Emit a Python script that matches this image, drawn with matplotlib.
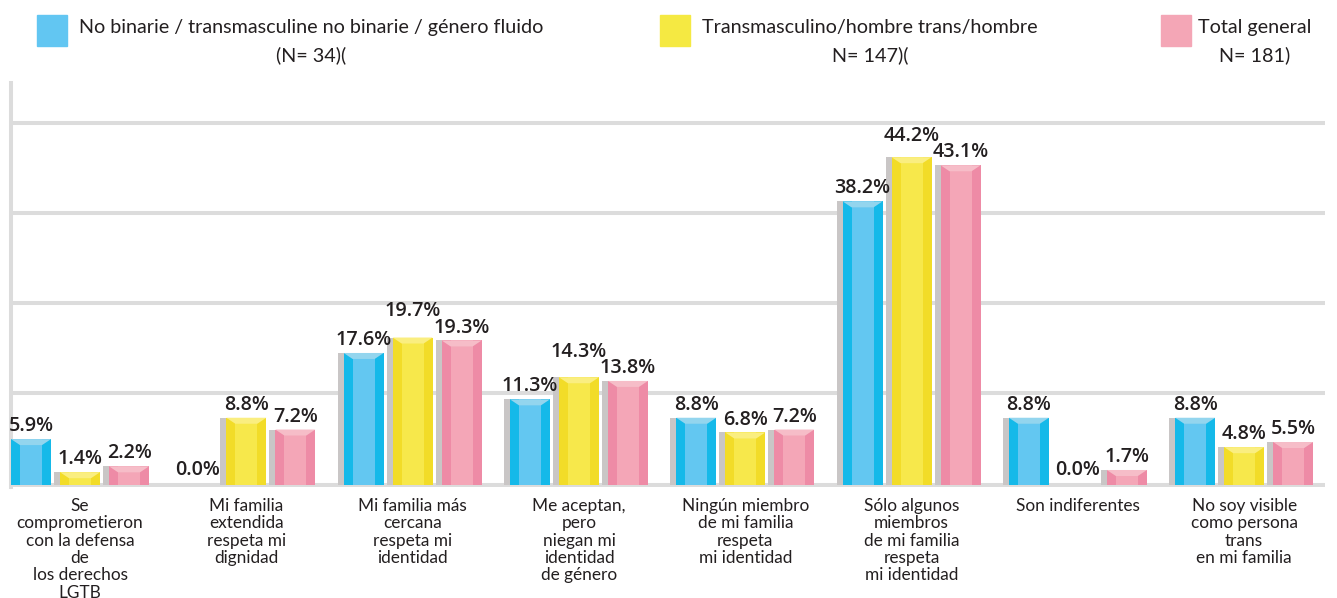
import numpy as np
import matplotlib.pyplot as plt
from matplotlib.patches import Polygon

categories = [
    "Se\ncomprometieron\ncon la defensa\nde\nlos derechos\nLGTB",
    "Mi familia\nextendida\nrespeta mi\ndignidad",
    "Mi familia más\ncercana\nrespeta mi\nidentidad",
    "Me aceptan,\npero\nniegan mi\nidentidad\nde género",
    "Ningún miembro\nde mi familia\nrespeta\nmi identidad",
    "Sólo algunos\nmiembros\nde mi familia\nrespeta\nmi identidad",
    "Son indiferentes",
    "No soy visible\ncomo persona\ntrans\nen mi familia",
]
series_names = ["No binarie / transmasculine no binarie / género fluido",
                "Transmasculino/hombre trans/hombre",
                "Total general"]
series_n = ["(N= 34)(", "N= 147)(", "N= 181)"]

no_binarie = [5.9, 0.0, 17.6, 11.3, 8.8, 38.2, 8.8, 8.8]
transmasculino = [1.4, 8.8, 19.7, 14.3, 6.8, 44.2, 0.0, 4.8]
total_general = [2.2, 7.2, 19.3, 13.8, 7.2, 43.1, 1.7, 5.5]

# side, centre, top bevel, legend colour
palette = [
    ("#15b9e9", "#63c7f1", "#93d5ee", "#62c6f2"),
    ("#f2dc28", "#f7e84b", "#faee80", "#f5e942"),
    ("#ee8ba6", "#f4a6b7", "#f6bdc8", "#f4a6b6"),
]
shadow = "#c9c6c6"
grid_col = "#dcdcdc"

fig = plt.figure(figsize=(13.37, 5.98), dpi=100)
W, H = 1337, 598
ax = fig.add_axes([11 / W, (H - 487) / H, 1314 / W, 404 / H])

x = np.arange(len(categories))
pitch = 0.2946
w = 0.2405
sh = 0.036
sw = 0.054
bev = 0.815
base = -0.34
gap = 0.4      # label gap above bar (y units)
txt_h = 2.2    # label height (y units)
char_w = 11 / 166.3

series = [np.array(s) for s in (no_binarie, transmasculino, total_general)]
labels = [[f"{v:.1f}%" for v in s] for s in series]

for i, vals in enumerate(series):
    side, mid, top, _ = palette[i]
    xs = x + (i - 1) * pitch
    keep = vals > 0
    hs = vals[keep] - base
    ax.bar(xs[keep] - w / 2 - sh / 2, hs, sh, bottom=base, color=shadow, zorder=3)
    ax.bar(xs[keep], hs, w, bottom=base, color=side, zorder=3)
    ax.bar(xs[keep], hs, w - 2 * sw, bottom=base, color=mid, zorder=4)
    for xc, v in zip(xs[keep], vals[keep]):
        b = min(bev, (v - base) * 0.5)
        ax.add_patch(Polygon([(xc - w / 2, v), (xc + w / 2, v),
                              (xc + w / 2 - sw, v - b), (xc - w / 2 + sw, v - b)],
                             closed=True, color=top, zorder=5, lw=0))

# value labels; the middle one is lifted when it would collide with a neighbour
for k in range(len(categories)):
    ys = [series[i][k] + gap for i in range(3)]
    for j in (0, 2):
        wide = (len(labels[1][k]) + len(labels[j][k])) * char_w / 2 > pitch
        if wide and abs(ys[1] - ys[j]) < txt_h:
            ys[1] = max(ys[1], ys[j] + txt_h)
    for i in range(3):
        ax.text(x[k] + (i - 1) * pitch, ys[i], labels[i][k], ha="center", va="bottom",
                fontsize=14.2, family="Open Sans", weight="semibold",
                color="#231f20", zorder=6)

ax.set_xlim(-0.415, 7.486)
ax.set_ylim(-0.61, 54.28)
for gy in [12.16, 24.39, 36.62, 48.85]:
    ax.axhline(gy, color=grid_col, lw=2.9, zorder=1)
ax.axhline(base, color=grid_col, lw=2.9, zorder=1)

for s in ["top", "right", "bottom"]:
    ax.spines[s].set_visible(False)
ax.spines["left"].set_color(grid_col)
ax.spines["left"].set_linewidth(2.9)
ax.set_yticks([])
ax.set_xticks(x, categories)
ax.tick_params(axis="x", length=0, pad=8)
for lbl in ax.get_xticklabels():
    lbl.set_family("Lato")
    lbl.set_fontsize(12.4)
    lbl.set_linespacing(1.1)
    lbl.set_color("#231f20")

# legend
sq_x = [37, 660, 1161]
txt_x = [311, 870, 1255]
for i in range(3):
    fig.patches.append(plt.Rectangle((sq_x[i] / W, 1 - 46 / H), 30 / W, 31 / H,
                                     transform=fig.transFigure, color=palette[i][3]))
    fig.text(txt_x[i] / W, 1 - 27 / H, series_names[i], ha="center", va="center",
             family="Lato", fontsize=14.2, color="#231f20")
    fig.text(txt_x[i] / W, 1 - 55 / H, series_n[i], ha="center", va="center",
             family="Lato", fontsize=14.2, color="#231f20")

fig.savefig("out.png", dpi=100)
